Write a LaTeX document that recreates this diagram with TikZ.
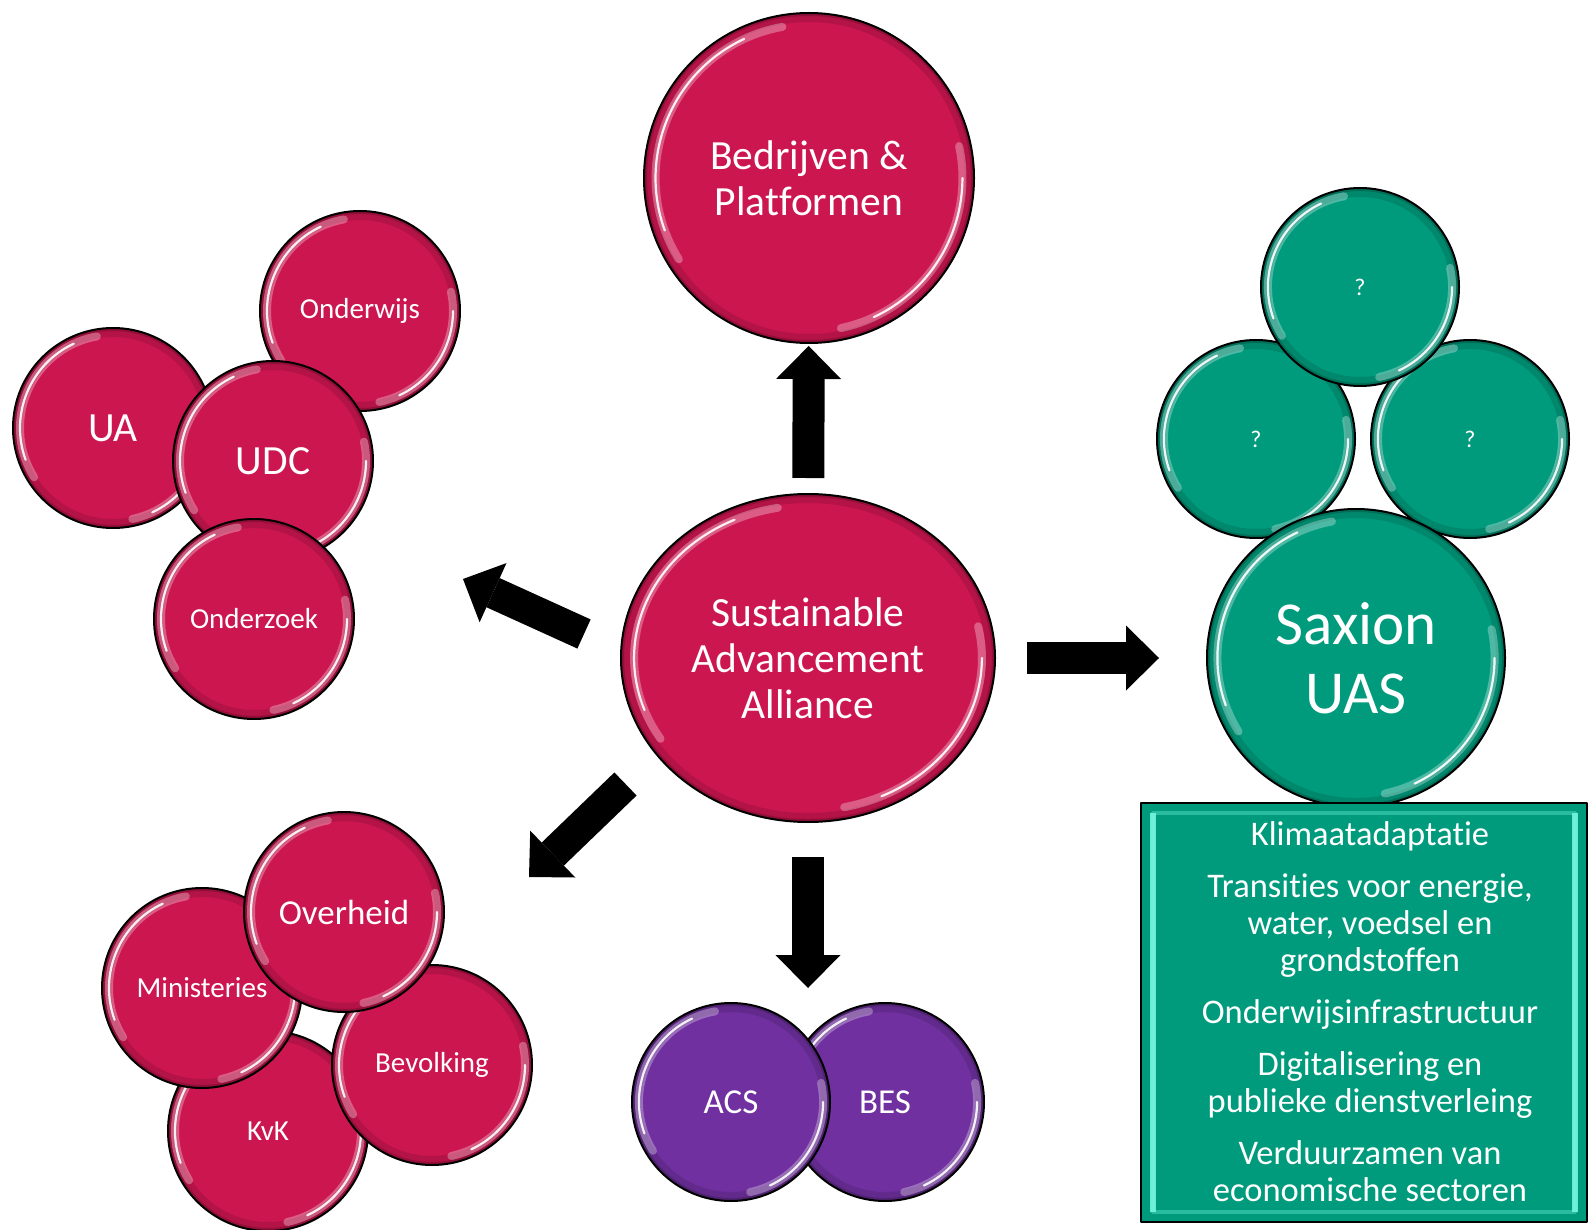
\documentclass[tikz,border=0pt]{standalone}
\usepackage{fontspec}
\setmainfont{Carlito}[Ligatures=NoCommon]
\usepackage{tikz}
\usetikzlibrary{calc}
\usetikzlibrary{arrows.meta, shapes.geometric}

\definecolor{saxpink}{RGB}{204,22,80}
\definecolor{saxgreen}{RGB}{0,155,125}
\definecolor{saxpurple}{RGB}{112,48,160}
\definecolor{bevelcyan}{RGB}{120,250,228}

\tikzset{
  gloss/.style={path picture={
    \coordinate (gc) at (path picture bounding box.center);
    \path let \p1=($(path picture bounding box.north east)-(gc)$) in
      \pgfextra{\pgfmathsetmacro\gx{\x1}\pgfmathsetmacro\gy{\y1}\xdef\gx{\gx}\xdef\gy{\gy}};
    % soft dark rim
    \draw[black, opacity=.12, line width=18pt] (gc) ellipse[x radius=\gx pt, y radius=\gy pt];
    \draw[black, opacity=.18, line width=6pt] (gc) ellipse[x radius=\gx pt, y radius=\gy pt];
    % highlights
    \draw[white, opacity=.3, line width=8pt, line cap=round] (gc) ++(100:.93*\gx pt and .93*\gy pt)
      arc[start angle=100, end angle=212, x radius=.93*\gx pt, y radius=.93*\gy pt];
    \draw[white, opacity=.9, line width=2.2pt, line cap=round] (gc) ++(115:.93*\gx pt and .93*\gy pt)
      arc[start angle=115, end angle=200, x radius=.93*\gx pt, y radius=.93*\gy pt];
    \draw[white, opacity=.3, line width=8pt, line cap=round] (gc) ++(-78:.93*\gx pt and .93*\gy pt)
      arc[start angle=-78, end angle=12, x radius=.93*\gx pt, y radius=.93*\gy pt];
    \draw[white, opacity=.9, line width=2.2pt, line cap=round] (gc) ++(-65:.93*\gx pt and .93*\gy pt)
      arc[start angle=-65, end angle=0, x radius=.93*\gx pt, y radius=.93*\gy pt];
  }},
  bubble/.style={circle, draw=black, line width=2pt, text=white, align=center, inner sep=0pt, gloss},
  redbub/.style={bubble, fill=saxpink, minimum size=200pt},
  greenbub/.style={bubble, fill=saxgreen, minimum size=198pt},
  purplebub/.style={bubble, fill=saxpurple, minimum size=198pt},
  fhuge/.style={font=\fontsize{61}{69}\selectfont},
  fbig/.style={font=\fontsize{41.5}{46}\selectfont},
  fmid/.style={font=\fontsize{35}{40}\selectfont},
  fsmall/.style={font=\fontsize{29}{33}\selectfont},
  fq/.style={font=\fontsize{24}{28}\selectfont},
  themebox/.style={rectangle, draw=black, line width=2pt, fill=saxgreen, text=white,
    minimum width=446pt, minimum height=419pt, font=\fontsize{34.5}{37}\selectfont,
    path picture={
      \draw[bevelcyan, opacity=.35, line width=4pt] ([shift={(12pt,-10pt)}]path picture bounding box.north west) rectangle ([shift={(-12pt,10pt)}]path picture bounding box.south east);
      \draw[bevelcyan, opacity=.85, line width=6pt] ([shift={(12pt,-10pt)}]path picture bounding box.north west) -- ([shift={(12pt,10pt)}]path picture bounding box.south west);
      \draw[bevelcyan, opacity=.85, line width=6pt] ([shift={(-12pt,-10pt)}]path picture bounding box.north east) -- ([shift={(-12pt,10pt)}]path picture bounding box.south east);
    }},
  bigarrow/.style={line width=32pt, line cap=butt, -{Triangle[length=33pt, width=65pt, line width=0pt]}},
}

\begin{document}
\begin{tikzpicture}[x=1pt, y=-1pt, line join=round]
    \useasboundingbox (0,0) rectangle (1588,1230);

    % partners on top and the alliance
    \node[redbub, minimum size=330pt, fbig] (bedr) at (809,178) {Bedrijven \&\\Platformen};
    \node[redbub, ellipse, minimum width=374pt, minimum height=328pt, fbig] (saa) at (808,658) {Sustainable\\Advancement\\Alliance};

    % knowledge cluster
    \node[redbub, fbig] (ua) at (113,428) {UA};
    \node[redbub, fsmall] (onderwijs) at (360,311) {Onderwijs};
    \node[redbub, fbig] (udc) at (273,461) {UDC};
    \node[redbub, fsmall] (onderzoek) at (254,619) {Onderzoek};

    % government cluster
    \node[redbub, fsmall] (kvk) at (268,1131) {KvK};
    \node[redbub, fsmall] (ministeries) at (202,988) {Ministeries};
    \node[redbub, fsmall] (bevolking) at (432,1065) {Bevolking};
    \node[redbub, fmid] (overheid) at (344,912) {Overheid};

    % islands
    \node[purplebub, fmid] (bes) at (885,1102) {BES};
    \node[purplebub, fmid] (acs) at (731,1102) {ACS};

    % Saxion side
    \node[greenbub, fq] (qleft) at (1256,439) {?};
    \node[greenbub, fq] (qright) at (1470,439) {?};
    \node[greenbub, fq] (qtop) at (1360,287) {?};
    \node[greenbub, minimum size=298pt, fhuge] (saxion) at (1356,658) {Saxion\\UAS};
    \node[themebox] (themes) at (1364,1012.5) {\hspace{12pt}\raisebox{-4pt}[\height][\depth]{\begin{tabular}{@{}c@{}}
      Klimaatadaptatie\\[15pt]
      Transities voor energie,\\ water, voedsel en\\ grondstoffen\\[15pt]
      Onderwijsinfrastructuur\\[15pt]
      Digitalisering en\\ publieke dienstverleing\\[15pt]
      Verduurzamen van\\ economische sectoren
    \end{tabular}}};

    % block arrows
    \coordinate (knowTail) at (584,634);
    \coordinate (knowTip) at (463,579);
    \coordinate (govTail) at (625.5,784);
    \coordinate (govTip) at (529,877);
    \draw[bigarrow, shorten <=15pt, shorten >=2pt] (saa) -- (bedr);
    \draw[bigarrow, shorten <=31pt, shorten >=47pt] (saa) -- (saxion);
    \draw[bigarrow, shorten <=34pt, shorten >=14pt] (saa) -- ($(acs.north)!.5!(bes.north)$);
    \draw[bigarrow] (knowTail) -- (knowTip);
    \draw[bigarrow] (govTail) -- (govTip);
\end{tikzpicture}
\end{document}
